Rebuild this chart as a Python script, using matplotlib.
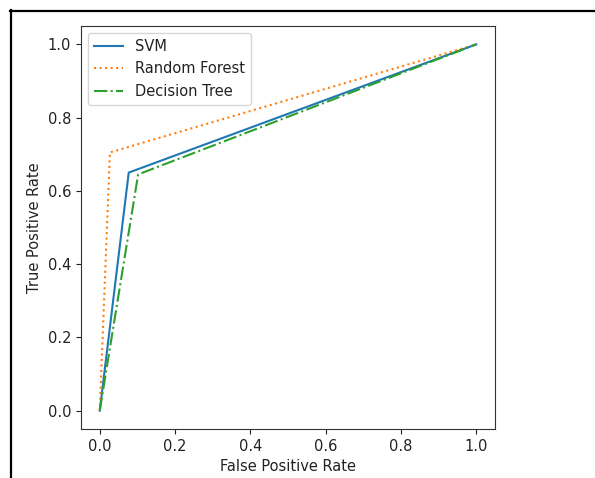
import matplotlib
matplotlib.use("Agg")
import matplotlib.pyplot as plt
from matplotlib.lines import Line2D

# ROC curves
svm_fpr = [0.0, 0.077, 1.0]
svm_tpr = [0.0, 0.65, 1.0]
rf_fpr = [0.0, 0.027, 1.0]
rf_tpr = [0.0, 0.705, 1.0]
dt_fpr = [0.0, 0.102, 1.0]
dt_tpr = [0.0, 0.645, 1.0]

plt.rcParams.update({
    "font.size": 10.5,
    "text.color": "#222222",
    "axes.labelcolor": "#222222",
    "xtick.color": "#222222",
    "ytick.color": "#222222",
    "axes.edgecolor": "#333333",
})

fig = plt.figure(figsize=(5.95, 4.78), dpi=100)
ax = fig.add_axes([0.136, 0.1025, 0.696, 0.843])

ax.plot(svm_fpr, svm_tpr, color="C0", ls="-", label="SVM")
ax.plot(rf_fpr, rf_tpr, color="C1", ls=":", label="Random Forest")
ax.plot(dt_fpr, dt_tpr, color="C2", ls="-.", label="Decision Tree")

ax.set_xlabel("False Positive Rate")
ax.set_ylabel("True Positive Rate")
ax.legend(loc="upper left")

# screenshot frame: top and left edges only
W, H = 595, 478
fig.add_artist(Line2D([10 / W, 1.0], [1 - 11 / H, 1 - 11 / H],
                      transform=fig.transFigure, color="black", lw=1.6))
fig.add_artist(Line2D([11 / W, 11 / W], [0.0, 1 - 10 / H],
                      transform=fig.transFigure, color="black", lw=1.6))

fig.savefig("out.png", dpi=100)
